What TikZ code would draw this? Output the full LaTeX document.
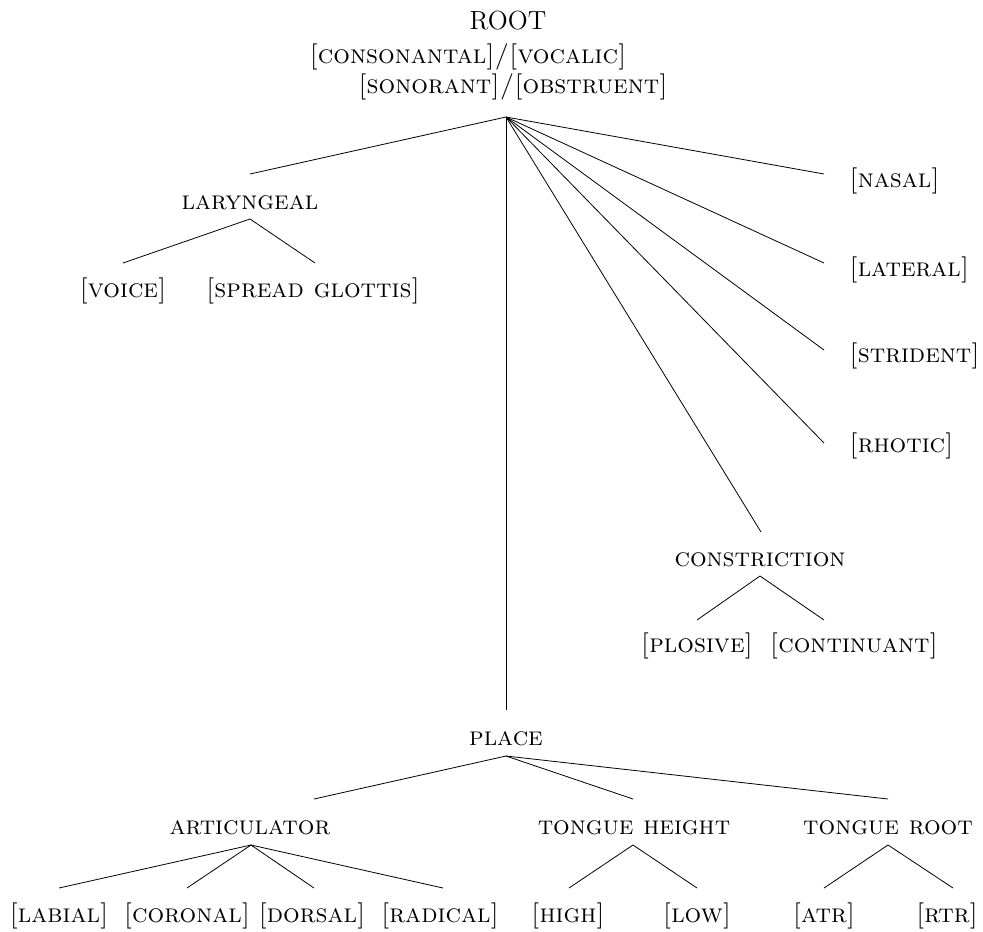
\documentclass[tikz,border=0pt]{standalone}
\begin{document}
\begin{tikzpicture}[x=0.5pt,y=-0.5pt,
  lbl/.style={inner sep=0pt,anchor=base,font=\fontsize{13.1}{15}\selectfont\scshape},
  rootlbl/.style={inner sep=0pt,anchor=base,font=\fontsize{13.1}{15}\selectfont},
  feat/.style={lbl},
  rfeat/.style={lbl,anchor=base west},
  branch/.style={line width=0.4pt}]
\useasboundingbox (0,0) rectangle (983,931);

% root node and its features
\node[rootlbl] (root) at (508,30) {ROOT};
\node[lbl] (cv) at (468,64) {[consonantal]/[vocalic]};
\node[lbl] (so) at (513,94) {[sonorant]/[obstruent]};
\coordinate (rootfan) at (506,117);

% laryngeal
\node[lbl] (lar) at (250,209) {laryngeal};
\coordinate (lar-t) at (250,174);
\coordinate (lar-b) at (250,219);
\node[feat] (voice) at (123,297) {[voice]};
\node[feat] (sg) at (313,297) {[spread glottis]};
\coordinate (voice-t) at (123,263);
\coordinate (sg-t) at (315,263);

% dependent features on the right
\node[rfeat] (nasal) at (849,187) {[nasal]};
\node[rfeat] (lateral) at (849,276) {[lateral]};
\node[rfeat] (strident) at (849,362) {[strident]};
\node[rfeat] (rhotic) at (849,452) {[rhotic]};
\coordinate (nasal-t) at (824,174);
\coordinate (lateral-t) at (824,263);
\coordinate (strident-t) at (824,350);
\coordinate (rhotic-t) at (824,443);

% constriction
\node[lbl] (con) at (760,566) {constriction};
\coordinate (con-t) at (761,532);
\coordinate (con-b) at (760,576);
\node[feat] (plos) at (697,652) {[plosive]};
\node[feat] (cont) at (854,652) {[continuant]};
\coordinate (plos-t) at (697,620);
\coordinate (cont-t) at (824,620);

% place
\node[lbl] (place) at (506,745) {place};
\coordinate (place-t) at (506,710);
\coordinate (place-b) at (506,756);

\node[lbl] (art) at (250,834) {articulator};
\node[lbl] (th) at (634,834) {tongue height};
\node[lbl] (tr) at (888,834) {tongue root};
\coordinate (art-t) at (314,799);
\coordinate (th-t) at (633,799);
\coordinate (tr-t) at (888,799);
\coordinate (art-b) at (251,845);
\coordinate (th-b) at (633,845);
\coordinate (tr-b) at (888,845);

\node[feat] (lab) at (59,922) {[labial]};
\node[feat] (cor) at (187,922) {[coronal]};
\node[feat] (dor) at (312,922) {[dorsal]};
\node[feat] (rad) at (440,922) {[radical]};
\node[feat] (high) at (568,922) {[high]};
\node[feat] (low) at (697,922) {[low]};
\node[feat] (atr) at (824,922) {[atr]};
\node[feat] (rtr) at (947,922) {[rtr]};
\coordinate (lab-t) at (59,888);
\coordinate (cor-t) at (187,888);
\coordinate (dor-t) at (314,888);
\coordinate (rad-t) at (443,888);
\coordinate (high-t) at (569,888);
\coordinate (low-t) at (697,888);
\coordinate (atr-t) at (824,888);
\coordinate (rtr-t) at (953,888);

% branches
\draw[branch] (rootfan) -- (lar-t);
\draw[branch] (rootfan) -- (place-t);
\draw[branch] (rootfan) -- (con-t);
\draw[branch] (rootfan) -- (rhotic-t);
\draw[branch] (rootfan) -- (strident-t);
\draw[branch] (rootfan) -- (lateral-t);
\draw[branch] (rootfan) -- (nasal-t);

\draw[branch] (voice-t) -- (lar-b) -- (sg-t);
\draw[branch] (plos-t) -- (con-b) -- (cont-t);

\draw[branch] (place-b) -- (art-t);
\draw[branch] (place-b) -- (th-t);
\draw[branch] (place-b) -- (tr-t);

\draw[branch] (art-b) -- (lab-t);
\draw[branch] (art-b) -- (cor-t);
\draw[branch] (art-b) -- (dor-t);
\draw[branch] (art-b) -- (rad-t);
\draw[branch] (high-t) -- (th-b) -- (low-t);
\draw[branch] (atr-t) -- (tr-b) -- (rtr-t);
\end{tikzpicture}
\end{document}
